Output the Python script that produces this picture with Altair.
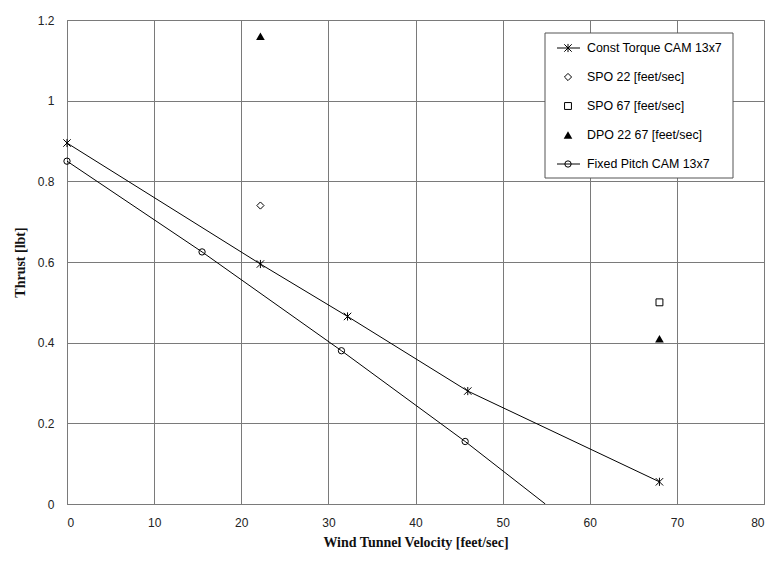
import altair as alt
import pandas as pd

# ---- data ----
ct_x = [0, 22.2, 32.2, 46.0, 68.0]
ct_y = [0.895, 0.595, 0.465, 0.28, 0.055]

fp_x = [0, 15.5, 31.5, 45.7]
fp_y = [0.85, 0.625, 0.38, 0.155]
fp_line_end_x = [54.9]
fp_line_end_y = [0.0]

spo22_x = [22.2]
spo22_y = [0.74]
spo67_x = [68.0]
spo67_y = [0.50]
dpo_x = [22.2, 68.0]
dpo_y = [1.16, 0.41]

series_names = [
    "Const Torque CAM 13x7",
    "SPO 22 [feet/sec]",
    "SPO 67 [feet/sec]",
    "DPO 22 67 [feet/sec]",
    "Fixed Pitch CAM 13x7",
]

x_ticks = list(range(0, 81, 10))
y_ticks = [0, 0.2, 0.4, 0.6, 0.8, 1.0, 1.2]

STAR = "M-1,-1L1,1M-1,1L1,-1M0,-1.1L0,1.1"

# ---- tables ----
lines_df = pd.DataFrame(
    [{"s": series_names[0], "x": x, "y": y, "o": i} for i, (x, y) in enumerate(zip(ct_x, ct_y))]
    + [{"s": series_names[4], "x": x, "y": y, "o": i}
       for i, (x, y) in enumerate(zip(fp_x + fp_line_end_x, fp_y + fp_line_end_y))]
)

hollow_df = pd.DataFrame(
    [{"s": series_names[0], "x": x, "y": y} for x, y in zip(ct_x, ct_y)]
    + [{"s": series_names[1], "x": x, "y": y} for x, y in zip(spo22_x, spo22_y)]
    + [{"s": series_names[2], "x": x, "y": y} for x, y in zip(spo67_x, spo67_y)]
    + [{"s": series_names[4], "x": x, "y": y} for x, y in zip(fp_x, fp_y)]
)
filled_df = pd.DataFrame({"s": series_names[3], "x": dpo_x, "y": dpo_y})

shape_scale = alt.Scale(
    domain=series_names,
    range=[STAR, "diamond", "square", "triangle-up", "circle"],
)
size_scale = alt.Scale(domain=series_names, range=[55, 40, 70, 75, 80])

xs = alt.Scale(domain=[0, 80], nice=False)
ys = alt.Scale(domain=[0, 1.2], nice=False)

x_enc = alt.X(
    "x:Q", scale=xs,
    axis=alt.Axis(values=x_ticks, title="Wind Tunnel Velocity [feet/sec]"),
)
y_enc = alt.Y(
    "y:Q", scale=ys,
    axis=alt.Axis(values=y_ticks, format="~g", title="Thrust [lbt]"),
)

lines = alt.Chart(lines_df).mark_line(color="black", strokeWidth=1, clip=True).encode(
    x=x_enc, y=y_enc, detail="s:N", order="o:Q"
)

hollow = alt.Chart(hollow_df).mark_point(
    filled=False, color="black", strokeWidth=1, opacity=1
).encode(
    x=x_enc,
    y=alt.Y("y:Q", scale=ys, axis=None),
    shape=alt.Shape("s:N", scale=shape_scale, legend=None),
    size=alt.Size("s:N", scale=size_scale, legend=None),
)

filled = alt.Chart(filled_df).mark_point(
    filled=True, color="black", shape="triangle-up", size=75, opacity=1
).encode(
    x=x_enc,
    y=alt.Y("y:Q", scale=ys, axis=None),
)

# ---- manual legend (positions in pixels, plot-relative) ----
LX0, LX1, LY0, LY1 = 478, 666, 13, 158
ROW0, ROWSTEP = 28, 29
leg_df = pd.DataFrame({
    "s": series_names,
    "ly": [ROW0 + i * ROWSTEP for i in range(len(series_names))],
    "has_line": [True, False, False, False, True],
})

leg_box = alt.Chart(pd.DataFrame({"a": [0]})).mark_rect(
    fill="white", stroke="#555555", strokeWidth=1
).encode(
    x=alt.value(LX0), x2=alt.value(LX1), y=alt.value(LY0), y2=alt.value(LY1)
)

leg_lines = alt.Chart(leg_df).transform_filter("datum.has_line").mark_rule(
    color="black", strokeWidth=1
).encode(
    x=alt.value(490), x2=alt.value(513),
    y=alt.Y("ly:Q", scale=None, axis=None),
)

leg_hollow = alt.Chart(leg_df).transform_filter(
    f"datum.s != '{series_names[3]}'"
).mark_point(filled=False, color="black", strokeWidth=1, opacity=1).encode(
    x=alt.value(501),
    y=alt.Y("ly:Q", scale=None, axis=None),
    shape=alt.Shape("s:N", scale=shape_scale, legend=None),
    size=alt.Size("s:N", scale=size_scale, legend=None),
)

leg_filled = alt.Chart(leg_df).transform_filter(
    f"datum.s == '{series_names[3]}'"
).mark_point(filled=True, color="black", shape="triangle-up", size=75, opacity=1).encode(
    x=alt.value(501),
    y=alt.Y("ly:Q", scale=None, axis=None),
)

leg_text = alt.Chart(leg_df).mark_text(
    align="left", baseline="middle", font="Liberation Sans", fontSize=12.4, color="black"
).encode(
    x=alt.value(520),
    y=alt.Y("ly:Q", scale=None, axis=None),
    text="s:N",
)

chart = alt.layer(
    lines, hollow, filled, leg_box, leg_lines, leg_hollow, leg_filled, leg_text
).resolve_scale(
    y="independent", shape="independent", size="independent"
).properties(
    width=697, height=484,
    autosize=alt.AutoSizeParams(type="none"),
    padding={"left": 59, "top": 12, "right": 1, "bottom": 49},
    background="white",
).configure_view(
    stroke="#808080", strokeWidth=1
).configure_axis(
    grid=True, gridColor="#7a7a7a", gridWidth=1, gridOpacity=1,
    domainColor="#7a7a7a", domainWidth=1, ticks=False,
    labelFont="Liberation Sans", labelFontSize=12, labelColor="#222222",
    titleFont="Liberation Serif", titleFontSize=14, titleFontWeight="bold",
    titleColor="#111111",
).configure_axisX(
    labelPadding=13, titlePadding=7,
).configure_axisY(
    labelPadding=13, titlePadding=10,
)

chart.save("out.html", embed_options={"renderer": "svg", "actions": False})
